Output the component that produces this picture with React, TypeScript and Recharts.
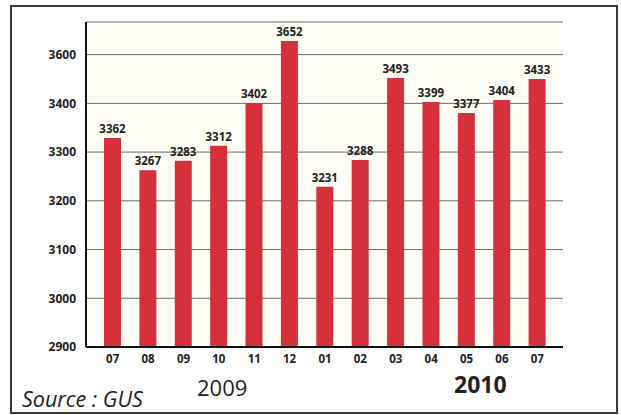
import React from "react"
import { BarChart, Bar, XAxis, YAxis, CartesianGrid, LabelList } from "recharts"

const months = ["07", "08", "09", "10", "11", "12", "01", "02", "03", "04", "05", "06", "07"]
// bar heights as drawn against the axis
const barValues = [3329, 3263, 3282, 3313, 3401, 3528, 3229, 3284, 3452, 3403, 3380, 3407, 3450]
// numbers printed above the bars
const printedValues = [3362, 3267, 3283, 3312, 3402, 3652, 3231, 3288, 3493, 3399, 3377, 3404, 3433]
const yTicks = [2900, 3000, 3100, 3200, 3300, 3400, 3500]
const yTickLabels = ["2900", "3000", "3100", "3200", "3300", "3400", "3600"]

const data = months.map((m, i) => ({
  key: i,
  month: m,
  value: barValues[i],
  printed: String(printedValues[i]),
}))

const font = "'Open Sans', 'DejaVu Sans', sans-serif"

export default function App() {
  return (
    <div
      style={{
        position: "absolute",
        left: 0,
        top: 0,
        width: 621,
        height: 415,
        background: "#fff",
        fontFamily: font,
      }}
    >
      <div
        style={{
          position: "absolute",
          left: 10,
          top: 5,
          width: 604,
          height: 405,
          border: "2px solid #3a3a3a",
        }}
      />
      <BarChart
        width={621}
        height={415}
        data={data}
        margin={{ top: 22, right: 58, left: 0, bottom: 38 }}
        barSize={17}
        style={{ position: "absolute", left: 0, top: 0 }}
      >
        <CartesianGrid vertical={false} stroke="#6a6a6a" strokeWidth={1} fill="#fffef7" />
        <XAxis
          dataKey="key"
          tickFormatter={(i: number) => months[i]}
          height={30}
          padding={{ left: 9, right: 8 }}
          axisLine={{ stroke: "#111", strokeWidth: 2 }}
          tickLine={false}
          tickSize={0}
          tickMargin={8}
          tick={{ fill: "#222", fontSize: 11.5, fontWeight: 700, fontFamily: font }}
        />
        <YAxis
          width={86}
          domain={[2900, 3567]}
          ticks={yTicks}
          tickFormatter={(v: number) => yTickLabels[yTicks.indexOf(v)]}
          axisLine={{ stroke: "#111", strokeWidth: 2 }}
          tickLine={false}
          tickSize={0}
          tickMargin={10}
          allowDataOverflow
          tick={{ fill: "#222", fontSize: 12, fontWeight: 700, fontFamily: font }}
        />
        <Bar dataKey="value" fill="#d6303d" isAnimationActive={false}>
          <LabelList
            dataKey="printed"
            position="top"
            offset={5}
            style={{ fill: "#222", fontSize: 11.5, fontWeight: 700, fontFamily: font }}
          />
        </Bar>
      </BarChart>
      <div
        style={{
          position: "absolute",
          left: 197,
          top: 372,
          fontSize: 22,
          color: "#222",
          lineHeight: "30px",
        }}
      >
        2009
      </div>
      <div
        style={{
          position: "absolute",
          left: 454,
          top: 369,
          fontSize: 23,
          fontWeight: 700,
          color: "#222",
          lineHeight: "30px",
        }}
      >
        2010
      </div>
      <div
        style={{
          position: "absolute",
          left: 22,
          top: 384,
          fontSize: 21.5,
          fontStyle: "italic",
          color: "#222",
          lineHeight: "30px",
        }}
      >
        Source : GUS
      </div>
    </div>
  )
}
